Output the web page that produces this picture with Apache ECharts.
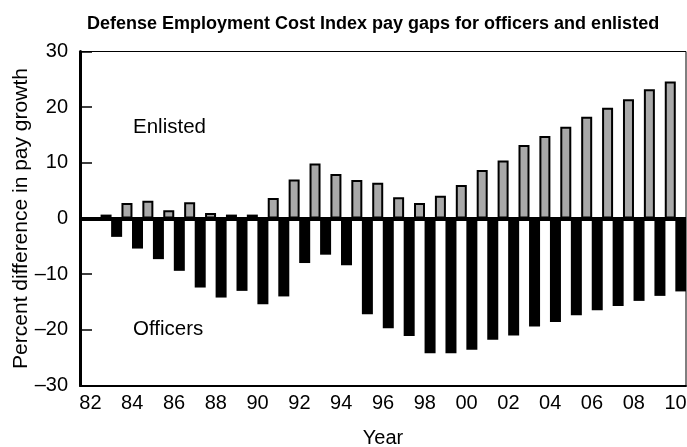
<!DOCTYPE html>
<html>
<head>
<meta charset="utf-8">
<script src="https://cdn.jsdelivr.net/npm/echarts@6/dist/echarts.min.js"></script>
<style>
  html, body { margin: 0; padding: 0; background: #fff; }
  #chart { width: 687px; height: 447px; }
</style>
</head>
<body>
<div id="chart"></div>
<script>
// years on the x axis (two-digit labels as printed)
var years = ['82', '83', '84', '85', '86', '87', '88', '89', '90', '91', '92', '93', '94', '95',
  '96', '97', '98', '99', '00', '01', '02', '03', '04', '05', '06', '07', '08', '09', '10']

// enlisted pay gap, percent
var enlisted = [null, 0.7, 2.8, 3.2, 1.5, 2.9, 1.0, 0.7, 0.7, 3.7, 7.0, 9.9, 8.0, 6.9,
  6.4, 3.8, 2.8, 4.1, 6.0, 8.7, 10.4, 13.2, 14.8, 16.5, 18.3, 19.9, 21.4, 23.2, 24.6]

// officer pay gap, percent
var officers = [null, -3.3, -5.4, -7.3, -9.4, -12.4, -14.2, -13.0, -15.4, -14.0, -8.0, -6.5, -8.4, -17.2,
  -19.7, -21.1, -24.2, -24.2, -23.6, -21.8, -21.0, -19.4, -18.6, -17.4, -16.5, -15.7, -14.8, -13.9, -13.1]

var yTicks = { min: -30, max: 30, interval: 10 }

var font = 'Liberation Sans, Arial, sans-serif'
var chart = echarts.init(document.getElementById('chart'))

chart.setOption({
  backgroundColor: '#fff',
  animation: false,
  textStyle: { fontFamily: font },
  title: {
    text: 'Defense Employment Cost Index pay gaps for officers and enlisted',
    left: 82,
    top: 10,
    textStyle: { fontSize: 18, fontWeight: 'bold', color: '#000', fontFamily: font }
  },
  grid: {
    left: 80,
    right: 1,
    top: 51.5,
    bottom: 61.5,
    outerBoundsMode: 'none',
    containLabel: false,
    show: true,
    borderColor: '#000',
    borderWidth: 1,
    backgroundColor: 'transparent'
  },
  xAxis: {
    type: 'category',
    data: years,
    name: 'Year',
    nameLocation: 'middle',
    nameGap: 43,
    nameMoveOverlap: false,
    nameTextStyle: { fontSize: 20, color: '#000' },
    axisLine: { onZero: false, lineStyle: { color: '#000', width: 2 } },
    axisTick: { show: false },
    axisLabel: { interval: 1, fontSize: 20, color: '#000', margin: 8 }
  },
  yAxis: {
    type: 'value',
    min: yTicks.min,
    max: yTicks.max,
    interval: yTicks.interval,
    name: 'Percent difference in pay growth',
    nameLocation: 'middle',
    nameGap: 48,
    nameMoveOverlap: false,
    nameTextStyle: { fontSize: 21, color: '#000' },
    axisLine: { show: true, lineStyle: { color: '#000', width: 3 } },
    axisTick: { show: true, inside: true, length: 12, lineStyle: { color: '#000', width: 1.5 } },
    splitLine: { show: false },
    axisLabel: {
      fontSize: 20,
      color: '#000',
      margin: 12,
      formatter: function (v) { return String(v).replace('-', '\u2013') }
    }
  },
  series: [
    {
      name: 'Enlisted',
      type: 'bar',
      data: enlisted,
      barWidth: 11,
      barGap: '-4%',
      itemStyle: { color: '#a9a9a9', borderColor: '#000', borderWidth: 2 },
      markLine: {
        silent: true,
        symbol: 'none',
        label: { show: false },
        lineStyle: { color: '#000', width: 4, type: 'solid' },
        data: [{ yAxis: 0 }]
      }
    },
    {
      name: 'Officers',
      type: 'bar',
      data: officers,
      barWidth: 11,
      itemStyle: { color: '#000' }
    }
  ],
  graphic: [
    {
      type: 'text',
      left: 133,
      top: 117,
      style: { text: 'Enlisted', fontSize: 20.5, fill: '#000', fontFamily: font }
    },
    {
      type: 'text',
      left: 133,
      top: 319,
      style: { text: 'Officers', fontSize: 20.5, fill: '#000', fontFamily: font }
    }
  ]
})
</script>
</body>
</html>
